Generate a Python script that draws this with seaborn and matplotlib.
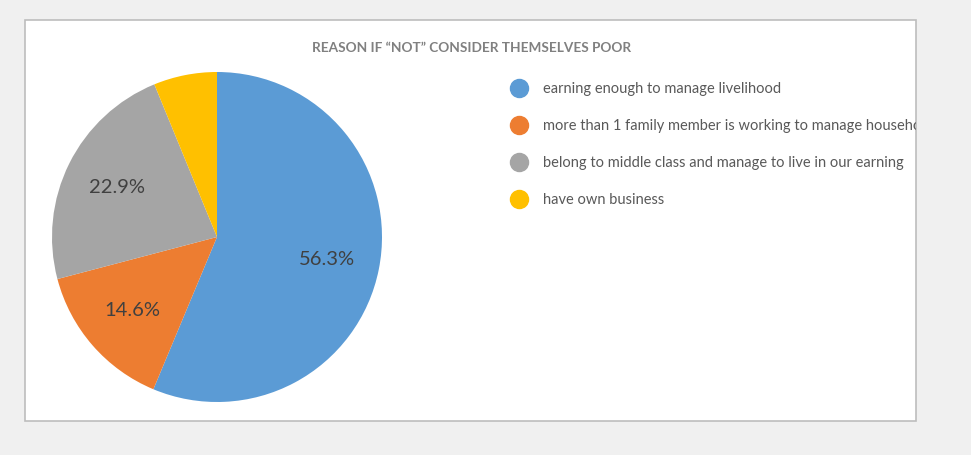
import matplotlib
matplotlib.use("Agg")
import matplotlib.pyplot as plt
from matplotlib.patches import Rectangle
from matplotlib.lines import Line2D
import seaborn as sns

# Survey responses
categories = [
    "earning enough to manage livelihood",
    "more than 1 family member is working to manage household",
    "belong to middle class and manage to live in our earning",
    "have own business",
]
shares = [56.3, 14.6, 22.9, 6.2]
colors = ["#5B9BD5", "#ED7D31", "#A5A5A5", "#FFC000"]
title = "REASON IF \u201cNOT\u201d CONSIDER THEMSELVES POOR"

sns.set_theme(style="white")
plt.rcParams["font.family"] = ["Lato", "DejaVu Sans"]

W, H = 971, 455
fig = plt.figure(figsize=(W / 100, H / 100), dpi=100)
fig.patch.set_facecolor("#f0f0f0")


def fx(px):
    return px / W


def fy(py):
    return 1 - py / H


# white chart panel with thin grey frame
panel = Rectangle((fx(25), fy(421)), fx(916) - fx(25), fy(20) - fy(421),
                  transform=fig.transFigure, facecolor="white",
                  edgecolor="#bdbdbd", linewidth=1.2, zorder=0)
fig.add_artist(panel)

# pie axes
ax = fig.add_axes([fx(52), fy(402), fx(382) - fx(52), fy(72) - fy(402)])
ax.set_facecolor("none")
wedges, texts, autotexts = ax.pie(
    shares,
    colors=colors,
    startangle=90,
    counterclock=False,
    autopct=lambda p: f"{p:.1f}%" if p > 10 else "",
    pctdistance=0.68,
    wedgeprops=dict(linewidth=0),
    textprops=dict(fontsize=14.5, color="#404040"),
)
ax.set_xlim(-1, 1)
ax.set_ylim(-1, 1)
ax.set_aspect("equal")
ax.axis("off")

fig.text(fx(472), fy(48), title, ha="center", va="center",
         fontsize=9.8, fontweight="bold", color="#808080")

# legend
handles = [Line2D([0], [0], marker="o", linestyle="none", markersize=13,
                  markerfacecolor=c, markeredgecolor=c) for c in colors]
leg = fig.legend(handles, categories, loc="upper left",
                 bbox_to_anchor=(fx(510), fy(82.5)), frameon=False,
                 fontsize=10.5, labelcolor="#595959", handletextpad=1.05,
                 labelspacing=1.57, borderaxespad=0, borderpad=0,
                 handlelength=1.2)
for t in leg.get_texts():
    t.set_clip_path(panel)

fig.savefig("out.png", dpi=100, facecolor=fig.get_facecolor())
